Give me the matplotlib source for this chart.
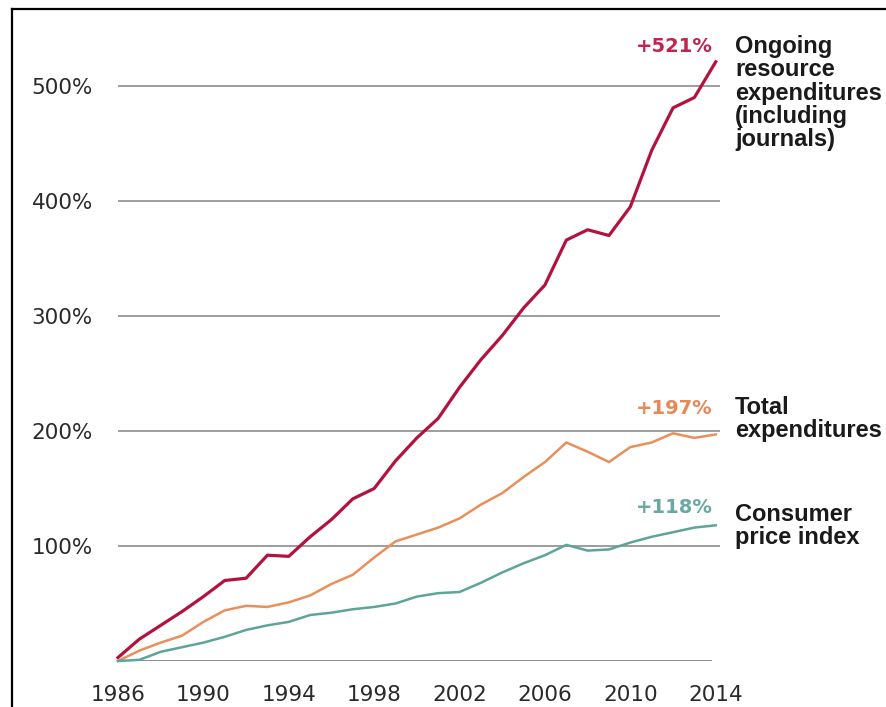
import matplotlib
matplotlib.use("Agg")
import matplotlib.pyplot as plt
from matplotlib.lines import Line2D

# percent change since 1986
years = list(range(1986, 2015))
ongoing = [3, 19, 31, 43, 56, 70, 72, 92, 91, 108, 123, 141, 150, 174, 194,
           211, 238, 262, 283, 307, 327, 366, 375, 370, 395, 444, 481, 490, 521]
total = [0, 9, 16, 22, 34, 44, 48, 47, 51, 57, 67, 75, 90, 104, 110,
         116, 124, 136, 146, 160, 173, 190, 182, 173, 186, 190, 198, 194, 197]
cpi = [0, 1, 8, 12, 16, 21, 27, 31, 34, 40, 42, 45, 47, 50, 56,
       59, 60, 68, 77, 85, 92, 101, 96, 97, 103, 108, 112, 116, 118]

series = [
    (ongoing, "#b3123e", 2.3, "Ongoing\nresource\nexpenditures\n(including\njournals)", "#c0244f"),
    (total, "#e98f5b", 1.8, "Total\nexpenditures", "#e58a57"),
    (cpi, "#5ea49a", 1.8, "Consumer\nprice index", "#6aa9a0"),
]

yticks = [100, 200, 300, 400, 500]
xticks = list(range(1986, 2015, 4))

fig = plt.figure(figsize=(8.86, 7.07), dpi=100)
ax = fig.add_axes([118 / 886, 1 - 661 / 707, (720 - 118) / 886, (661 - 17) / 707])
ax.set_xlim(1986, 2014.2)
ax.set_ylim(0, 560)

for y in yticks:
    ax.axhline(y, color="#8c8c8c", lw=1.2, zorder=1)
ax.axhline(0, xmax=0.985, color="#8c8c8c", lw=1.4, zorder=1)

# end-of-line percentage labels, raised above each line's last point
label_dy = [11, 19, 13]
for (vals, col, lw, name, lcol), dy in zip(series, label_dy):
    ax.plot(years, vals, color=col, lw=lw, solid_joinstyle="round", zorder=3, clip_on=False)
    end = vals[-1]
    ax.annotate("+%d%%" % end, xy=(years[-1], end), xytext=(-2, dy),
                textcoords="offset points", ha="right", va="center",
                fontsize=14, fontweight="bold", color=lcol, family="DejaVu Sans")

label_y = [47, 408, 515]
for (vals, col, lw, name, lcol), py in zip(series, label_y):
    fig.text(735 / 886, 1 - (py - 12) / 707, name, ha="left", va="top",
             fontsize=17, fontweight="bold", color="#1a1a1a",
             family="Liberation Sans", linespacing=1.02)

ax.set_xticks(xticks)
ax.set_xticklabels([str(x) for x in xticks])
ax.set_yticks(yticks)
ax.set_yticklabels(["%d%%" % y for y in yticks])
ax.tick_params(length=0, labelsize=15.5, labelcolor="#2a2a2a")
ax.tick_params(axis="y", pad=18)
ax.tick_params(axis="x", pad=17)
for s in ax.spines.values():
    s.set_visible(False)

# frame lines on the left and top
fig.add_artist(Line2D([12 / 886, 12 / 886], [0, 1 - 9 / 707], color="black", lw=1.6))
fig.add_artist(Line2D([12 / 886, 1], [1 - 9 / 707, 1 - 9 / 707], color="black", lw=1.6))

fig.savefig("out.png", dpi=100, facecolor="white")
